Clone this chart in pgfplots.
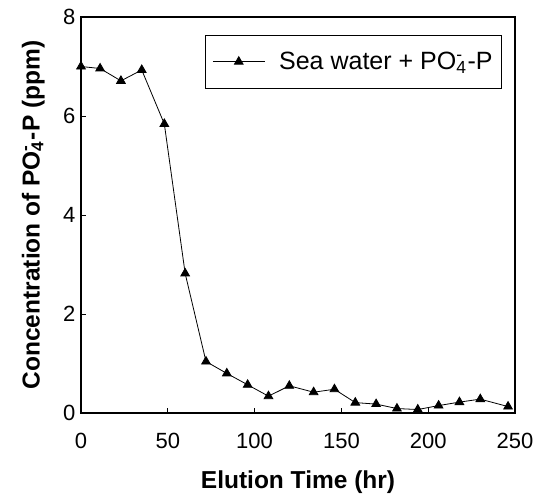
\documentclass[border=0pt]{standalone}
\usepackage{fontspec}
\setmainfont{Liberation Sans}
\usepackage{pgfplots}
\pgfplotsset{compat=1.18}
\begin{document}
\begin{tikzpicture}
\begin{axis}[
  scale only axis, width=434pt, height=396pt,
  xmin=0, xmax=250, ymin=0, ymax=8,
  xtick={0,50,...,250}, ytick={0,2,...,8},
  tick align=inside, tick pos=left, major tick length=5pt,
  axis line style={line width=1.5pt},
  every tick/.style={black, line width=0.8pt},
  /pgf/number format/assume math mode=true,
  tick label style={font=\fontsize{22}{26}\selectfont},
  xticklabel style={yshift=-17pt},
  yticklabel style={xshift=-2pt},
  xlabel={Elution Time (hr)},
  ylabel={Concentration of PO\rlap{\textsuperscript{-}}\textsubscript{4}\hspace{1pt}-P (ppm)},
  label style={font=\fontsize{24.5}{28}\selectfont\bfseries},
  xlabel style={at={(axis description cs:0.5,-0.174)}, anchor=center},
  ylabel style={at={(axis description cs:-0.11,0.5)}, anchor=center},
  legend style={at={(rel axis cs:0.97,0.955)}, anchor=north east,
    font=\fontsize{25}{29}\selectfont, draw=black, line width=0.8pt,
    inner xsep=7pt, inner ysep=15pt, column sep=12pt},
  legend cell align=left,
  legend image code/.code={\draw[mark repeat=2,mark phase=2] plot coordinates {(0pt,0pt)(26pt,0pt)(52pt,0pt)};},
  clip=false,
]
\addplot[black, line width=0.8pt, mark=triangle*, mark size=5pt, mark options={solid, fill=black}]
  coordinates {
  (0,7.00) (11,6.96) (23,6.71) (35,6.93) (48,5.84) (60,2.82) (72,1.04)
  (84,0.80) (96,0.57) (108,0.34) (120,0.55) (134,0.42) (146,0.48)
  (158,0.21) (170,0.18) (182,0.09) (194,0.07) (206,0.15) (218,0.22)
  (230,0.28) (246,0.13)
  };
\addlegendentry{Sea water + PO\rlap{\textsuperscript{-}}\textsubscript{4}\hspace{1pt}-P}
\coordinate (O) at (rel axis cs:0,0);
\end{axis}
\pgfresetboundingbox
\path ([shift={(-81pt,-86pt)}]O) rectangle ([shift={(457pt,413pt)}]O);
\end{tikzpicture}
\end{document}
